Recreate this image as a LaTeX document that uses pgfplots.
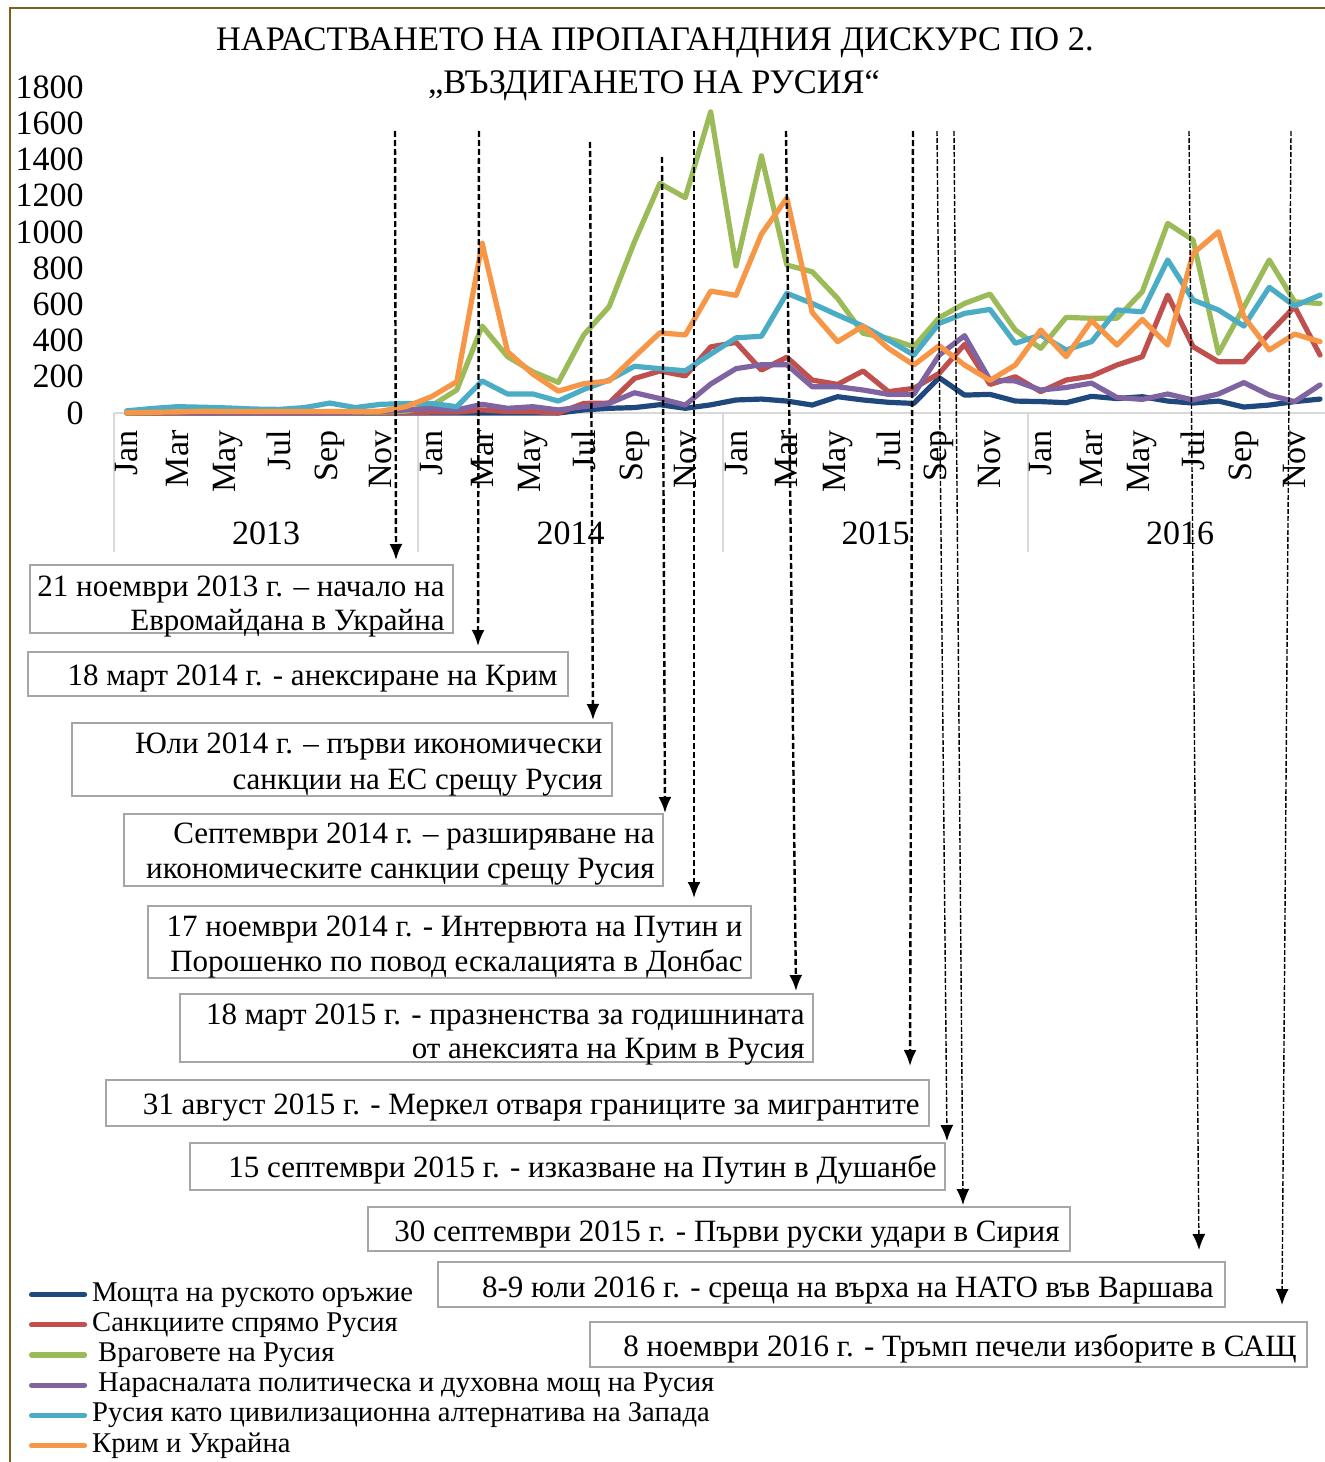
\documentclass[border=0pt]{standalone}
\usepackage{fontspec}
\setmainfont{Liberation Serif}
\usepackage{pgfplots}
\pgfplotsset{compat=1.18}
\usepackage{pgfplotstable}
\usetikzlibrary{arrows.meta}

\definecolor{cnavy}{HTML}{1F497D}
\definecolor{cred}{HTML}{C0504D}
\definecolor{cgreen}{HTML}{9BBB59}
\definecolor{cpurple}{HTML}{8064A2}
\definecolor{ccyan}{HTML}{4BACC6}
\definecolor{corange}{HTML}{F79646}
\definecolor{framec}{HTML}{7F5F1F}
\definecolor{boxgray}{HTML}{A6A6A6}
\definecolor{axgray}{HTML}{D9D9D9}

\newcommand\annot{\fontsize{15.5}{15.5}\selectfont}
\newcommand\axfont{\fontsize{17}{17}\selectfont}

\pgfplotstableread{
i navy red green purple cyan orange
0 0 0 0 2 12 2
1 0 0 2 3 25 4
2 0 0 3 4 35 6
3 0 0 5 3 32 10
4 0 0 10 3 28 8
5 0 0 3 2 22 8
6 0 0 5 3 20 8
7 0 0 5 3 30 8
8 0 0 3 3 55 8
9 0 0 3 5 30 8
10 0 0 5 8 48 10
11 0 2 10 17 52 35
12 0 5 40 26 53 90
13 0 5 127 17 35 173
14 0 17 480 48 177 937
15 0 8 311 26 105 339
16 0 8 228 35 105 214
17 0 0 169 17 66 121
18 17 53 431 35 130 162
19 26 55 587 53 182 177
20 30 191 946 112 258 311
21 46 232 1268 80 245 443
22 26 205 1189 44 233 431
23 45 365 1663 160 325 673
24 72 390 812 245 415 650
25 77 237 1420 267 424 988
26 66 308 817 267 661 1187
27 44 182 780 145 605 555
28 90 158 633 145 541 394
29 72 232 440 127 480 480
30 59 118 412 103 403 357
31 53 136 366 103 320 265
32 195 219 526 320 495 372
33 99 379 605 427 550 265
34 103 158 657 182 572 180
35 66 200 458 177 385 265
36 63 118 357 127 431 458
37 57 182 528 141 348 311
38 92 204 523 165 394 510
39 80 265 523 86 569 375
40 90 311 670 75 559 517
41 66 651 1047 105 845 375
42 55 366 955 72 624 881
43 66 283 330 105 569 1001
44 33 283 585 168 480 532
45 44 440 845 99 694 348
46 63 587 614 63 591 436
47 77 320 605 155 651 394
}\datatable

\begin{document}
\begin{tikzpicture}
% background elements in pixel coordinates
\begin{scope}[shift={(-57pt,206.5pt)}, x=0.5pt, y=-0.5pt]
  \fill[white] (0,0) rectangle (1325,1462);
  \draw[framec, line width=1.2pt] (10,1470) -- (10,8) -- (1330,8);
  \draw[axgray, line width=1pt] (114,413) -- (1330,413);
  \foreach \x in {114,418,723,1028} \draw[axgray, line width=1pt] (\x,413) -- (\x,552);
\end{scope}

\begin{axis}[
  scale only axis, width=605.5pt, height=163pt,
  xmin=-0.5, xmax=47.196, ymin=0, ymax=1800,
  axis x line*=bottom, axis y line*=left,
  x axis line style={draw=none}, y axis line style={draw=none},
  major tick length=0pt,
  xtick={0,2,...,46},
  xticklabels={Jan,Mar,May,Jul,Sep,Nov,Jan,Mar,May,Jul,Sep,Nov,Jan,Mar,May,Jul,Sep,Nov,Jan,Mar,May,Jul,Sep,Nov},
  xticklabel style={rotate=90, anchor=east, inner sep=0pt, font=\axfont},
  xticklabel shift=8.5pt,
  ytick={0,200,...,1800},
  yticklabel style={anchor=east, inner sep=0pt, font=\axfont},
  yticklabel shift=15pt,
  /pgf/number format/assume math mode=true,
  /pgf/number format/1000 sep={},
  clip=false,
  every axis plot/.append style={line width=2.6pt, line join=round, line cap=round},
  legend cell align=left,
  legend image code/.code={\draw[#1] (0pt,0pt) -- (26.5pt,0pt);},
  legend style={draw=none, fill=none, at={(axis description cs:-0.0702,-2.658)}, anchor=north west,
    font=\fontsize{14.3}{14.3}\selectfont, inner sep=0pt, outer sep=0pt, row sep=0pt,
    nodes={inner sep=0.5pt, text height=10.3pt, text depth=3.8pt},
    /tikz/every odd column/.style={column sep=2pt}},
]
\addplot[cnavy] table[x=i, y=navy]{\datatable};
\addlegendentry{Мощта на руското оръжие}
\addplot[cred] table[x=i, y=red]{\datatable};
\addlegendentry{Санкциите спрямо Русия}
\addplot[cgreen] table[x=i, y=green]{\datatable};
\addlegendentry{\hspace{3pt}Враговете на Русия}
\addplot[cpurple] table[x=i, y=purple]{\datatable};
\addlegendentry{\hspace{3pt}Нарасналата политическа и духовна мощ на Русия}
\addplot[ccyan] table[x=i, y=cyan]{\datatable};
\addlegendentry{Русия като цивилизационна алтернатива на Запада}
\addplot[corange] table[x=i, y=orange]{\datatable};
\addlegendentry{Крим и Украйна}
\end{axis}

% foreground elements in pixel coordinates
\begin{scope}[shift={(-57pt,206.5pt)}, x=0.5pt, y=-0.5pt]
  % title
  \node[anchor=base, inner sep=0pt, font=\fontsize{17.2}{17.2}\selectfont] at (655,50.5) {НАРАСТВАНЕТО НА ПРОПАГАНДНИЯ ДИСКУРС ПО 2.};
  \node[anchor=base, inner sep=0pt, font=\fontsize{17.2}{17.2}\selectfont] at (654,94) {„ВЪЗДИГАНЕТО НА РУСИЯ“};
  % years
  \foreach \x/\yr in {266/2013,570.5/2014,875.5/2015,1180/2016}
    \node[inner sep=0pt, font=\axfont] at (\x,533) {\yr};
  % arrows
  \tikzset{thk/.style={line width=1.2pt, dash pattern=on 3pt off 1.5pt, -{Latex[length=8pt,width=6.5pt]}},
           thn/.style={line width=0.7pt, dash pattern=on 2.5pt off 1pt, -{Latex[length=8pt,width=6.5pt]}}}
  \draw[thk] (395,131) -- (396,560);
  \draw[thk] (479,131) -- (478,646);
  \draw[thk] (590,142) -- (593,720);
  \draw[thk] (662,157) -- (665,813);
  \draw[thk] (694,131) -- (694,898);
  \draw[thk] (786,131) -- (796,991);
  \draw[thk] (913,131) -- (910,1066);
  \draw[thn] (937,131) -- (947,1141);
  \draw[thn] (954,131) -- (963,1205);
  \draw[thn] (1189,131) -- (1199,1250);
  \draw[thn] (1291,131) -- (1282,1305);
  % boxes
  \tikzset{bx/.style={draw=boxgray, line width=1pt, fill=white},
           tx/.style={anchor=base east, inner sep=0pt, font=\annot}}
  \draw[bx] (30,565) rectangle (453,633);
  \node[tx] at (445,596) {21 ноември 2013 г. – начало на};
  \node[tx] at (445,630) {Евромайдана в Украйна};
  \draw[bx] (28,652) rectangle (568,696);
  \node[tx] at (558,685) {18 март 2014 г. - анексиране на Крим};
  \draw[bx] (72,723) rectangle (612,796);
  \node[tx] at (603,753) {Юли 2014 г. – първи икономически};
  \node[tx] at (603,789) {санкции на ЕС срещу Русия};
  \draw[bx] (124,814) rectangle (663,886);
  \node[tx] at (655,843) {Септември 2014 г. – разширяване на};
  \node[tx] at (655,878) {икономическите санкции срещу Русия};
  \draw[bx] (148,906) rectangle (751,978);
  \node[tx] at (743,936) {17 ноември 2014 г. - Интервюта на Путин и};
  \node[tx] at (743,971) {Порошенко по повод ескалацията в Донбас};
  \draw[bx] (180,994) rectangle (813,1062);
  \node[tx] at (805,1024) {18 март 2015 г. - празненства за годишнината};
  \node[tx] at (805,1058) {от анексията на Крим в Русия};
  \draw[bx] (106,1080) rectangle (929,1126);
  \node[tx] at (920,1114) {31 август 2015 г. - Меркел отваря границите за мигрантите};
  \draw[bx] (190,1143) rectangle (945,1190);
  \node[tx] at (937,1177) {15 септември 2015 г. - изказване на Путин в Душанбе};
  \draw[bx] (368,1207) rectangle (1070,1251);
  \node[tx] at (1060,1241) {30 септември 2015 г. - Първи руски удари в Сирия};
  \draw[bx] (438,1262) rectangle (1225,1307);
  \node[tx] at (1214,1297) {8-9 юли 2016 г. - среща на върха на НАТО във Варшава};
  \draw[bx] (590,1322) rectangle (1307,1367);
  \node[tx] at (1297,1356) {8 ноември 2016 г. - Тръмп печели изборите в САЩ};
  \pgfresetboundingbox
  \useasboundingbox (0,0) rectangle (1325,1462);
\end{scope}
\end{tikzpicture}
\end{document}
